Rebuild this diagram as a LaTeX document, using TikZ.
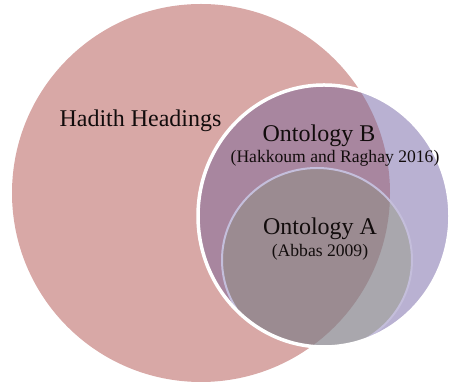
\documentclass[tikz,border=0pt]{standalone}
\usepackage{fontspec}
\setmainfont{Liberation Serif}
\definecolor{hpink}{RGB}{216,168,166}
\definecolor{blav}{RGB}{185,177,210}
\definecolor{bmauve}{RGB}{168,134,159}
\definecolor{agrayM}{RGB}{155,139,145}
\definecolor{agrayL}{RGB}{169,167,173}
\definecolor{aborder}{RGB}{196,190,219}
\definecolor{txt}{RGB}{18,12,12}
\begin{document}
\begin{tikzpicture}[x=1pt,y=1pt,
  bigtext/.style={font=\fontsize{24}{28}\selectfont, text=txt, anchor=base, inner sep=0},
  smalltext/.style={font=\fontsize{17.6}{21}\selectfont, text=txt, anchor=base, inner sep=0}]
\useasboundingbox (0,0) rectangle (453,387);
\coordinate (hc) at (201,194);
\coordinate (bc) at (324,171);
\coordinate (ac) at (317,127);
% Hadith Headings circle
\fill[hpink] (hc) circle (189);
% Ontology B
\fill[blav] (bc) ellipse [x radius=126, y radius=131];
\begin{scope}
  \clip (bc) ellipse [x radius=126, y radius=131];
  \clip (hc) circle (189);
  \fill[bmauve] (bc) ellipse [x radius=126, y radius=131];
\end{scope}
% Ontology A
\begin{scope}
  \clip (bc) ellipse [x radius=126, y radius=131];
  \fill[agrayL] (ac) ellipse [x radius=95, y radius=92];
  \begin{scope}
    \clip (hc) circle (189);
    \fill[agrayM] (ac) ellipse [x radius=95, y radius=92];
  \end{scope}
  \draw[aborder, line width=2] (ac) ellipse [x radius=95, y radius=92];
\end{scope}
\draw[white, line width=3.5] (bc) ellipse [x radius=126, y radius=131];
% labels
\node[bigtext] (hh) at (140.5,260) {Hadith Headings};
\node[bigtext] (ob) at (319,245) {Ontology B};
\node[smalltext] (obr) at (335,224) {(Hakkoum and Raghay 2016)};
\node[bigtext] (oa) at (320,152) {Ontology A};
\node[smalltext] (oar) at (320,130) {(Abbas 2009)};
\end{tikzpicture}
\end{document}
